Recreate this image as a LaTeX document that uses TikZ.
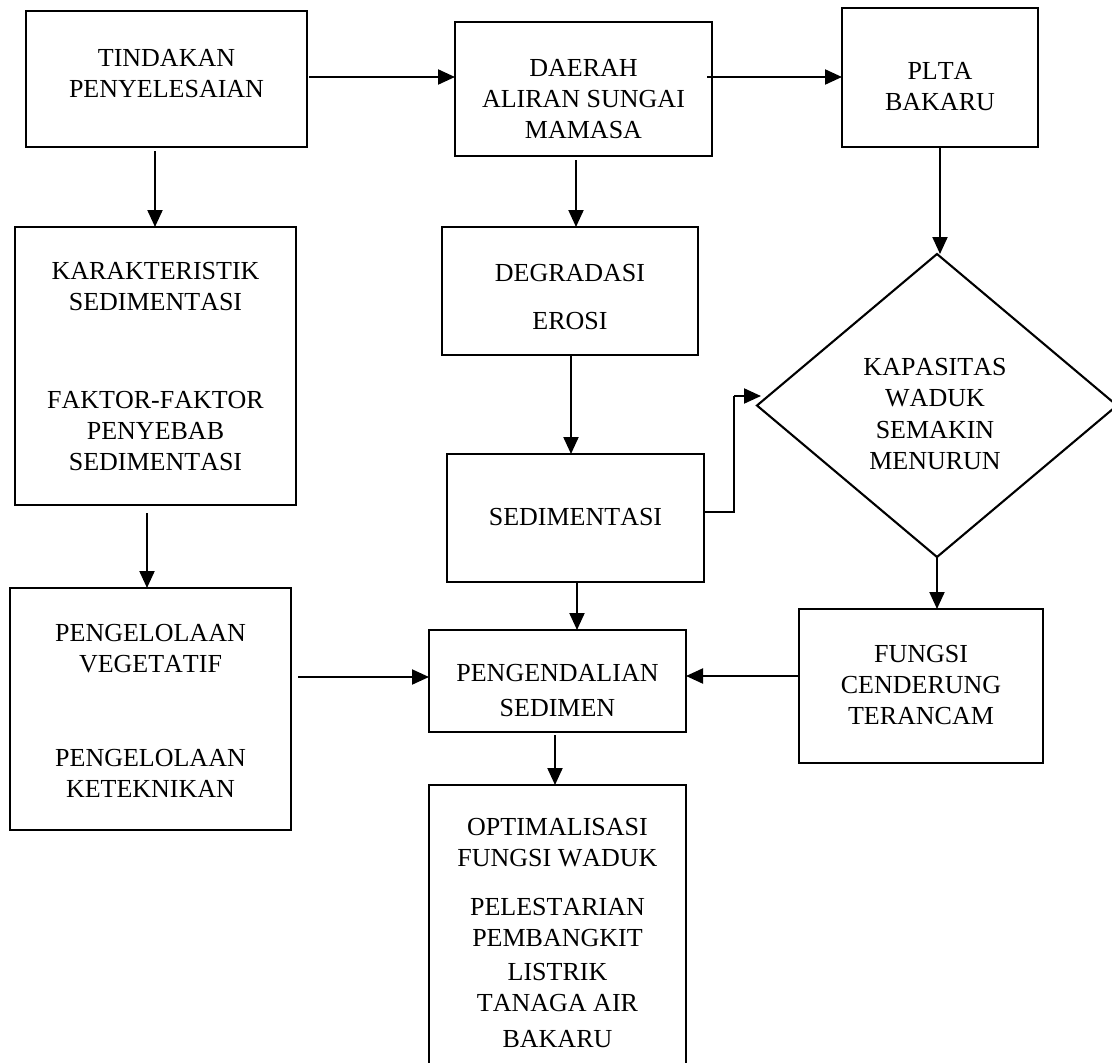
\documentclass[tikz,border=0pt]{standalone}
\usepackage{fontspec}
\setmainfont[Kerning=Off]{Liberation Serif}
\usetikzlibrary{shapes.geometric,arrows.meta}
\begin{document}
\begin{tikzpicture}[x=1pt,y=-1pt,
  box/.style={draw, line width=2.3pt, rectangle, inner sep=0pt, outer sep=0pt},
  dbox/.style={draw, line width=2.1pt, diamond, inner sep=0pt, outer sep=0pt},
  txt/.style={inner sep=0pt, align=center, font=\fontsize{26}{31}\selectfont},
  arr/.style={line width=2.1pt, -{Triangle[length=17pt,width=15pt]}}]
\useasboundingbox (0,0) rectangle (1112,1063);
\clip (0,0) rectangle (1112,1063);
\fill[white] (0,0) rectangle (1112,1063);

% boxes
\node[box, minimum width=281pt, minimum height=136pt] (b1) at (166.5,79) {};
\node[box, minimum width=257pt, minimum height=134pt] (b2) at (583.5,89) {};
\node[box, minimum width=196pt, minimum height=139pt] (b3) at (940,77.5) {};
\node[box, minimum width=281pt, minimum height=278pt] (b4) at (155.5,366) {};
\node[box, minimum width=256pt, minimum height=128pt] (b5) at (570,291) {};
\node[box, minimum width=257pt, minimum height=128pt] (b6) at (575.5,518) {};
\node[box, minimum width=281pt, minimum height=242pt] (b7) at (150.5,709) {};
\node[box, minimum width=257pt, minimum height=102pt] (b8) at (557.5,681) {};
\node[box, minimum width=244pt, minimum height=154pt] (b9) at (921,686) {};
\node[box, minimum width=257pt, minimum height=290pt] (b10) at (557.5,930) {};
\node[dbox, minimum width=360pt, minimum height=303pt] (d1) at (937,405.5) {};

% texts
\node[txt] (t1) at (166.5,74) {TINDAKAN\\PENYELESAIAN};
\node[txt] (t2) at (583.5,99) {DAERAH\\ALIRAN SUNGAI\\MAMASA};
\node[txt] (t3) at (940,86.5) {PLTA\\BAKARU};
\node[txt] (t4) at (155.5,367) {KARAKTERISTIK\\SEDIMENTASI\\[67pt]FAKTOR-FAKTOR\\PENYEBAB\\SEDIMENTASI};
\node[txt] (t5) at (570,297.5) {DEGRADASI\\[17pt]EROSI};
\node[txt] (t6) at (575.5,517) {SEDIMENTASI};
\node[txt] (t7) at (150.5,711) {PENGELOLAAN\\VEGETATIF\\[63pt]PENGELOLAAN\\KETEKNIKAN};
\node[txt] (t8) at (557.5,691) {PENGENDALIAN\\[4pt]SEDIMEN};
\node[txt] (t9) at (921,685) {FUNGSI\\CENDERUNG\\TERANCAM};
\node[txt] (t10) at (557.5,933) {OPTIMALISASI\\FUNGSI WADUK\\[18pt]PELESTARIAN\\PEMBANGKIT\\[3pt]LISTRIK\\TANAGA AIR\\[5pt]BAKARU};
\node[txt, font=\fontsize{26}{31.5}\selectfont] (td) at (935,414) {KAPASITAS\\WADUK\\SEMAKIN\\MENURUN};

\coordinate (k1) at (734,512);
\coordinate (k2) at (734,396);
\coordinate (k3) at (761,396);

% connectors
\draw[arr] (b1.east |- 0,77) ++(2,0) -- (b2.west |- 0,77);
\draw[arr] (b2.east |- 0,77) ++(-5,0) -- (b3.west |- 0,77);
\draw[arr] (b1.south -| 155,0) ++(0,4) -- (b4.north -| 155,0);
\draw[arr] (b2.south -| 576,0) ++(0,4) -- (b5.north -| 576,0);
\draw[arr] (b3.south) -- (b3.south |- d1.north);
\draw[arr] (b5.south -| 571,0) -- (b6.north -| 571,0);
\draw[line width=2.1pt] (b6.east |- k1) -- (k1) -- (k2);
\draw[arr] (k2) -- (k3);
\draw[arr] (b4.south -| 147,0) ++(0,8) -- (b7.north -| 147,0);
\draw[arr] (b6.south -| 577,0) -- (b8.north -| 577,0);
\draw[arr] (b7.east |- 0,677) ++(7,0) -- (b8.west |- 0,677);
\draw[arr] (b9.west |- 0,676) -- (b8.east |- 0,676);
\draw[arr] (d1.south) -- (d1.south |- b9.north);
\draw[arr] (b8.south -| 555,0) ++(0,3) -- (b10.north -| 555,0);
\end{tikzpicture}
\end{document}
